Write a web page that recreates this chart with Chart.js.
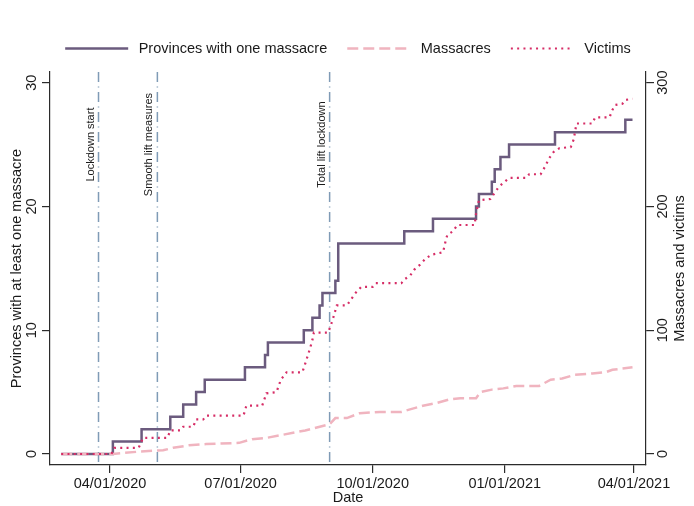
<!DOCTYPE html>
<html>
<head>
<meta charset="utf-8">
<title>Massacres timeline</title>
<script src="https://cdn.jsdelivr.net/npm/chart.js@4.4.1/dist/chart.umd.min.js"></script>
<style>
    html, body { margin: 0; padding: 0; background: #fff; }
    #chart { display: block; }
</style>
</head>
<body>
<canvas id="chart" width="694" height="506"></canvas>
<script>
// ================================================================
// DATA
// ================================================================

// Provinces with at least one massacre (cumulative, left axis)
const PROVINCE_DATES = [
    '2020-02-27', '2020-04-03', '2020-04-23', '2020-05-13', '2020-05-22', '2020-05-31',
    '2020-06-06', '2020-07-04', '2020-07-18', '2020-07-20', '2020-08-14', '2020-08-20',
    '2020-08-25', '2020-08-27', '2020-09-05', '2020-09-07', '2020-10-23', '2020-11-12',
    '2020-12-12', '2020-12-14', '2020-12-23', '2020-12-25', '2020-12-29', '2021-01-04',
    '2021-02-05', '2021-03-26', '2021-03-31'
];
const PROVINCE_COUNTS = [
    0, 1, 2, 3, 4, 5,
    6, 7, 8, 9, 10, 11,
    12, 13, 14, 17, 18, 19,
    20, 21, 22, 23, 24, 25,
    26, 27, 27
];

// Cumulative massacres (right axis)
const MASSACRE_DATES = [
    '2020-02-27', '2020-04-03', '2020-04-22', '2020-05-08', '2020-05-15', '2020-05-26',
    '2020-06-07', '2020-06-30', '2020-07-09', '2020-07-19', '2020-07-28', '2020-08-15',
    '2020-09-01', '2020-09-05', '2020-09-13', '2020-09-22', '2020-10-06', '2020-10-21',
    '2020-10-27', '2020-11-05', '2020-11-14', '2020-11-23', '2020-12-01', '2020-12-12',
    '2020-12-15', '2020-12-23', '2020-12-31', '2021-01-09', '2021-01-25', '2021-02-02',
    '2021-02-10', '2021-02-19', '2021-03-03', '2021-03-12', '2021-03-17', '2021-03-31'
];
const MASSACRE_COUNTS = [
    0, 0, 2, 3, 5, 7,
    8, 9, 12, 13, 15, 19,
    24, 29, 29, 33, 34, 34,
    36, 39, 41, 44, 45, 45,
    50, 52, 53, 55, 55, 60,
    61, 64, 65, 66, 68, 70
];

// Cumulative victims (right axis)
const VICTIM_DATES = [
    '2020-02-27', '2020-04-02', '2020-04-04', '2020-04-21', '2020-04-24', '2020-05-11',
    '2020-05-13', '2020-05-20', '2020-05-22', '2020-05-29', '2020-05-31', '2020-06-05',
    '2020-06-07', '2020-07-03', '2020-07-05', '2020-07-16', '2020-07-19', '2020-07-26',
    '2020-07-29', '2020-08-02', '2020-08-13', '2020-08-15', '2020-08-18', '2020-08-20',
    '2020-08-21', '2020-08-31', '2020-09-03', '2020-09-06', '2020-09-13', '2020-09-19',
    '2020-09-23', '2020-10-01', '2020-10-03', '2020-10-21', '2020-10-23', '2020-10-27',
    '2020-10-30', '2020-11-03', '2020-11-07', '2020-11-11', '2020-11-19', '2020-11-21',
    '2020-11-22', '2020-11-26', '2020-11-29', '2020-12-11', '2020-12-12', '2020-12-14',
    '2020-12-22', '2020-12-25', '2020-12-28', '2021-01-01', '2021-01-04', '2021-01-16',
    '2021-01-18', '2021-01-26', '2021-01-29', '2021-02-01', '2021-02-04', '2021-02-08',
    '2021-02-16', '2021-02-18', '2021-02-20', '2021-03-03', '2021-03-05', '2021-03-15',
    '2021-03-17', '2021-03-19', '2021-03-24', '2021-03-26', '2021-03-31'
];
const VICTIM_COUNTS = [
    0, 0, 5, 5, 13, 13,
    19, 19, 22, 22, 28, 28,
    31, 31, 39, 39, 49, 50,
    60, 66, 66, 73, 84, 92,
    98, 98, 108, 120, 120, 130,
    135, 135, 138, 138, 141, 144,
    149, 153, 158, 161, 163, 173,
    177, 180, 185, 185, 194, 205,
    206, 211, 216, 220, 223, 223,
    226, 226, 232, 239, 244, 247,
    248, 254, 267, 267, 272, 272,
    278, 282, 283, 286, 287
];

// Policy events marked with vertical lines
const EVENT_DATES = ['2020-03-24', '2020-05-04', '2020-09-01'];
const EVENT_LABELS = ['Lockdown start', 'Smooth lift measures', 'Total lift lockdown'];

// Axis ticks
const DATE_TICKS = ['2020-04-01', '2020-07-01', '2020-10-01', '2021-01-01', '2021-04-01'];
const LEFT_TICKS = [0, 10, 20, 30];
const RIGHT_TICKS = [0, 100, 200, 300];

// ================================================================
// HELPERS
// ================================================================

const FONT = '"Liberation Sans", Arial, Helvetica, sans-serif';
const TEXT_COLOR = '#1a1a1a';
const AXIS_COLOR = '#2b2b2b';

// ISO date -> day number (UTC)
function toDay(iso) {
    const [y, m, d] = iso.split('-').map(Number);
    return Date.UTC(y, m - 1, d) / 86400000;
}

// ISO date -> MM/DD/YYYY
function formatDate(iso) {
    const [y, m, d] = iso.split('-');
    return `${m}/${d}/${y}`;
}

function toPoints(dates, values) {
    return dates.map((d, i) => ({ x: toDay(d), y: values[i] }));
}

function drawRotated(ctx, text, x, y) {
    ctx.save();
    ctx.translate(x, y);
    ctx.rotate(-Math.PI / 2);
    ctx.textAlign = 'center';
    ctx.textBaseline = 'middle';
    ctx.fillText(text, 0, 0);
    ctx.restore();
}

// ================================================================
// PLUGINS
// ================================================================

// Dash-dot vertical lines with rotated event labels
const eventLines = {
    id: 'eventLines',
    beforeDatasetsDraw(chart) {
        const { ctx, chartArea, scales } = chart;
        const labelY = scales.yLeft.getPixelForValue(25);
        EVENT_DATES.forEach((d, i) => {
            const x = scales.x.getPixelForValue(toDay(d));
            ctx.save();
            ctx.strokeStyle = '#7f9bb6';
            ctx.lineWidth = 1.5;
            ctx.setLineDash([10, 4.5, 1, 4.5]);
            ctx.beginPath();
            ctx.moveTo(x, chartArea.top);
            ctx.lineTo(x, chartArea.bottom);
            ctx.stroke();
            ctx.restore();

            ctx.save();
            ctx.font = `11px ${FONT}`;
            ctx.fillStyle = TEXT_COLOR;
            drawRotated(ctx, EVENT_LABELS[i], x - 8, labelY);
            ctx.restore();
        });
    }
};

// Legend row above the plot: line sample + label for each dataset
const lineLegend = {
    id: 'lineLegend',
    afterDraw(chart) {
        const { ctx } = chart;
        const sample = 63, gap = 10.5, spacing = 20, y = 48.5;
        ctx.save();
        ctx.font = `14.5px ${FONT}`;
        const items = chart.data.datasets.map(ds => ({ ds, w: ctx.measureText(ds.label).width }));
        const total = items.reduce((s, it) => s + sample + gap + it.w, 0) + spacing * (items.length - 1);
        let x = (chart.chartArea.left + chart.chartArea.right) / 2 - total / 2;
        items.forEach(({ ds, w }) => {
            ctx.save();
            ctx.strokeStyle = ds.borderColor;
            ctx.lineWidth = ds.borderWidth;
            ctx.setLineDash(ds.borderDash || []);
            ctx.beginPath();
            ctx.moveTo(x, y);
            ctx.lineTo(x + sample, y);
            ctx.stroke();
            ctx.restore();
            x += sample + gap;
            ctx.fillStyle = TEXT_COLOR;
            ctx.textAlign = 'left';
            ctx.textBaseline = 'middle';
            ctx.fillText(ds.label, x, y);
            x += w + spacing;
        });
        ctx.restore();
    }
};

// Tick labels and axis titles
const axisText = {
    id: 'axisText',
    afterDraw(chart) {
        const { ctx, chartArea, scales } = chart;
        const midY = (chartArea.top + chartArea.bottom) / 2;
        ctx.save();
        ctx.fillStyle = TEXT_COLOR;
        ctx.font = `14.5px ${FONT}`;

        LEFT_TICKS.forEach(v => {
            drawRotated(ctx, String(v), chartArea.left - 18.5, scales.yLeft.getPixelForValue(v));
        });
        RIGHT_TICKS.forEach(v => {
            drawRotated(ctx, String(v), chartArea.right + 17, scales.yRight.getPixelForValue(v));
        });

        ctx.textAlign = 'center';
        ctx.textBaseline = 'middle';
        DATE_TICKS.forEach(d => {
            ctx.fillText(formatDate(d), scales.x.getPixelForValue(toDay(d)), chartArea.bottom + 19);
        });
        ctx.fillText('Date', (chartArea.left + chartArea.right) / 2, chartArea.bottom + 33);

        drawRotated(ctx, 'Provinces with at least one massacre', 17, midY);
        drawRotated(ctx, 'Massacres and victims', chartArea.right + 34, midY);
        ctx.restore();
    }
};

// ================================================================
// CHART
// ================================================================

Chart.defaults.font.family = FONT;
Chart.defaults.color = TEXT_COLOR;

const axisGrid = {
    drawOnChartArea: false,
    drawTicks: true,
    tickLength: 8,
    color: AXIS_COLOR,
    lineWidth: 1.2
};
const axisBorder = { display: true, color: AXIS_COLOR, width: 1.2 };

new Chart(document.getElementById('chart'), {
    type: 'line',
    data: {
        datasets: [
            {
                label: 'Provinces with one massacre',
                data: toPoints(PROVINCE_DATES, PROVINCE_COUNTS),
                yAxisID: 'yLeft',
                stepped: true,
                borderColor: '#6b5b7e',
                backgroundColor: '#6b5b7e',
                borderWidth: 2.5,
                pointRadius: 0,
                order: 3
            },
            {
                label: 'Massacres',
                data: toPoints(MASSACRE_DATES, MASSACRE_COUNTS),
                yAxisID: 'yRight',
                borderColor: '#f0b4bf',
                backgroundColor: '#f0b4bf',
                borderWidth: 2.5,
                borderDash: [11, 5],
                pointRadius: 0,
                tension: 0,
                order: 2
            },
            {
                label: 'Victims',
                data: toPoints(VICTIM_DATES, VICTIM_COUNTS),
                yAxisID: 'yRight',
                borderColor: '#d62d66',
                backgroundColor: '#d62d66',
                borderWidth: 2.2,
                borderDash: [2, 4.3],
                pointRadius: 0,
                tension: 0,
                order: 1
            }
        ]
    },
    options: {
        responsive: false,
        animation: false,
        devicePixelRatio: 1,
        layout: {
            padding: { top: 72, left: 42, right: 40, bottom: 33 }
        },
        plugins: {
            tooltip: { enabled: false },
            legend: { display: false }
        },
        scales: {
            x: {
                type: 'linear',
                min: toDay('2020-04-01') - 41.8,
                max: toDay('2021-04-01') + 8.4,
                afterBuildTicks: scale => {
                    scale.ticks = DATE_TICKS.map(d => ({ value: toDay(d) }));
                },
                ticks: { display: false },
                grid: axisGrid,
                border: axisBorder
            },
            yLeft: {
                type: 'linear',
                position: 'left',
                min: -0.89,
                max: 30.86,
                afterBuildTicks: scale => {
                    scale.ticks = LEFT_TICKS.map(v => ({ value: v }));
                },
                ticks: { display: false },
                grid: axisGrid,
                border: axisBorder
            },
            yRight: {
                type: 'linear',
                position: 'right',
                min: -8.9,
                max: 308.6,
                afterBuildTicks: scale => {
                    scale.ticks = RIGHT_TICKS.map(v => ({ value: v }));
                },
                ticks: { display: false },
                grid: axisGrid,
                border: axisBorder
            }
        }
    },
    plugins: [eventLines, lineLegend, axisText]
});
</script>
</body>
</html>
